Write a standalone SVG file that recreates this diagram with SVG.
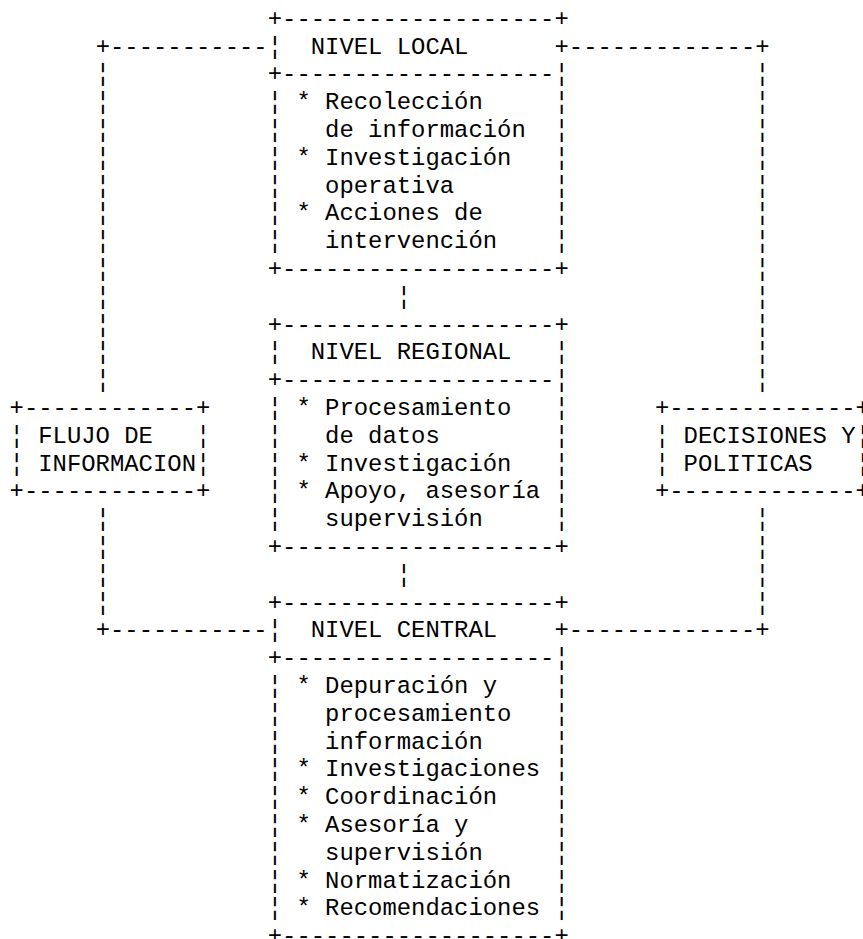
<svg xmlns="http://www.w3.org/2000/svg" width="863" height="939" viewBox="0 0 863 939">
<style>
.t{font-family:"Liberation Mono","DejaVu Sans Mono",monospace;font-size:23.9px;fill:#000}
</style>
<rect width="863" height="939" fill="#fff"/>
<g id="connectors" class="t">
<text x="95.64" y="53.6">+-----------</text>
<text x="568.86" y="53.6">-------------+</text>
<text x="95.64" y="81.4">¦</text><text x="755.28" y="81.4">¦</text>
<text x="95.64" y="109.2">¦</text><text x="755.28" y="109.2">¦</text>
<text x="95.64" y="137.0">¦</text><text x="755.28" y="137.0">¦</text>
<text x="95.64" y="164.8">¦</text><text x="755.28" y="164.8">¦</text>
<text x="95.64" y="192.6">¦</text><text x="755.28" y="192.6">¦</text>
<text x="95.64" y="220.4">¦</text><text x="755.28" y="220.4">¦</text>
<text x="95.64" y="248.2">¦</text><text x="755.28" y="248.2">¦</text>
<text x="95.64" y="276.0">¦</text><text x="755.28" y="276.0">¦</text>
<text x="95.64" y="303.8">¦</text><text x="755.28" y="303.8">¦</text>
<text x="95.64" y="331.6">¦</text><text x="755.28" y="331.6">¦</text>
<text x="95.64" y="359.4">¦</text><text x="755.28" y="359.4">¦</text>
<text x="95.64" y="387.2">¦</text><text x="755.28" y="387.2">¦</text>
<text x="95.64" y="526.2">¦</text><text x="755.28" y="526.2">¦</text>
<text x="95.64" y="554.0">¦</text><text x="755.28" y="554.0">¦</text>
<text x="95.64" y="581.8">¦</text><text x="755.28" y="581.8">¦</text>
<text x="95.64" y="609.6">¦</text><text x="755.28" y="609.6">¦</text>
<text x="95.64" y="637.4">+-----------</text>
<text x="568.86" y="637.4">-------------+</text>
<text x="396.78" y="303.8">¦</text>
<text x="396.78" y="581.8">¦</text>
</g>
<g id="node-local" class="t">
<text x="267.72" y="25.8">+-------------------+</text>
<text x="267.72" y="53.6">¦</text><text x="310.74" y="53.6">NIVEL LOCAL</text><text x="554.52" y="53.6">+</text>
<text x="267.72" y="81.4">+-------------------¦</text>
<text x="267.72" y="109.2">¦</text><text x="296.4" y="109.2">* Recolección</text><text x="554.52" y="109.2">¦</text>
<text x="267.72" y="137.0">¦</text><text x="325.08" y="137.0">de información</text><text x="554.52" y="137.0">¦</text>
<text x="267.72" y="164.8">¦</text><text x="296.4" y="164.8">* Investigación</text><text x="554.52" y="164.8">¦</text>
<text x="267.72" y="192.6">¦</text><text x="325.08" y="192.6">operativa</text><text x="554.52" y="192.6">¦</text>
<text x="267.72" y="220.4">¦</text><text x="296.4" y="220.4">* Acciones de</text><text x="554.52" y="220.4">¦</text>
<text x="267.72" y="248.2">¦</text><text x="325.08" y="248.2">intervención</text><text x="554.52" y="248.2">¦</text>
<text x="267.72" y="276.0">+-------------------+</text>
</g>
<g id="node-regional" class="t">
<text x="267.72" y="331.6">+-------------------+</text>
<text x="267.72" y="359.4">¦</text><text x="310.74" y="359.4">NIVEL REGIONAL</text><text x="554.52" y="359.4">¦</text>
<text x="267.72" y="387.2">+-------------------¦</text>
<text x="267.72" y="415.0">¦</text><text x="296.4" y="415.0">* Procesamiento</text><text x="554.52" y="415.0">¦</text>
<text x="267.72" y="442.8">¦</text><text x="325.08" y="442.8">de datos</text><text x="554.52" y="442.8">¦</text>
<text x="267.72" y="470.6">¦</text><text x="296.4" y="470.6">* Investigación</text><text x="554.52" y="470.6">¦</text>
<text x="267.72" y="498.4">¦</text><text x="296.4" y="498.4">* Apoyo, asesoría</text><text x="554.52" y="498.4">¦</text>
<text x="267.72" y="526.2">¦</text><text x="325.08" y="526.2">supervisión</text><text x="554.52" y="526.2">¦</text>
<text x="267.72" y="554.0">+-------------------+</text>
</g>
<g id="node-central" class="t">
<text x="267.72" y="609.6">+-------------------+</text>
<text x="267.72" y="637.4">¦</text><text x="310.74" y="637.4">NIVEL CENTRAL</text><text x="554.52" y="637.4">+</text>
<text x="267.72" y="665.2">+-------------------¦</text>
<text x="267.72" y="693.0">¦</text><text x="296.4" y="693.0">* Depuración y</text><text x="554.52" y="693.0">¦</text>
<text x="267.72" y="720.8">¦</text><text x="325.08" y="720.8">procesamiento</text><text x="554.52" y="720.8">¦</text>
<text x="267.72" y="748.6">¦</text><text x="325.08" y="748.6">información</text><text x="554.52" y="748.6">¦</text>
<text x="267.72" y="776.4">¦</text><text x="296.4" y="776.4">* Investigaciones</text><text x="554.52" y="776.4">¦</text>
<text x="267.72" y="804.2">¦</text><text x="296.4" y="804.2">* Coordinación</text><text x="554.52" y="804.2">¦</text>
<text x="267.72" y="832.0">¦</text><text x="296.4" y="832.0">* Asesoría y</text><text x="554.52" y="832.0">¦</text>
<text x="267.72" y="859.8">¦</text><text x="325.08" y="859.8">supervisión</text><text x="554.52" y="859.8">¦</text>
<text x="267.72" y="887.6">¦</text><text x="296.4" y="887.6">* Normatización</text><text x="554.52" y="887.6">¦</text>
<text x="267.72" y="915.4">¦</text><text x="296.4" y="915.4">* Recomendaciones</text><text x="554.52" y="915.4">¦</text>
<text x="267.72" y="943.2">+-------------------+</text>
</g>
<g id="node-flujo" class="t">
<text x="9.6" y="415.0">+------------+</text>
<text x="9.6" y="442.8">¦</text><text x="38.28" y="442.8">FLUJO DE</text><text x="196.02" y="442.8">¦</text>
<text x="9.6" y="470.6">¦</text><text x="38.28" y="470.6">INFORMACION</text><text x="196.02" y="470.6">¦</text>
<text x="9.6" y="498.4">+------------+</text>
</g>
<g id="node-decisiones" class="t">
<text x="654.9" y="415.0">+-------------+</text>
<text x="654.9" y="442.8">¦</text><text x="683.58" y="442.8">DECISIONES Y</text><text x="855.66" y="442.8">¦</text>
<text x="654.9" y="470.6">¦</text><text x="683.58" y="470.6">POLITICAS</text><text x="855.66" y="470.6">¦</text>
<text x="654.9" y="498.4">+-------------+</text>
</g>
</svg>
